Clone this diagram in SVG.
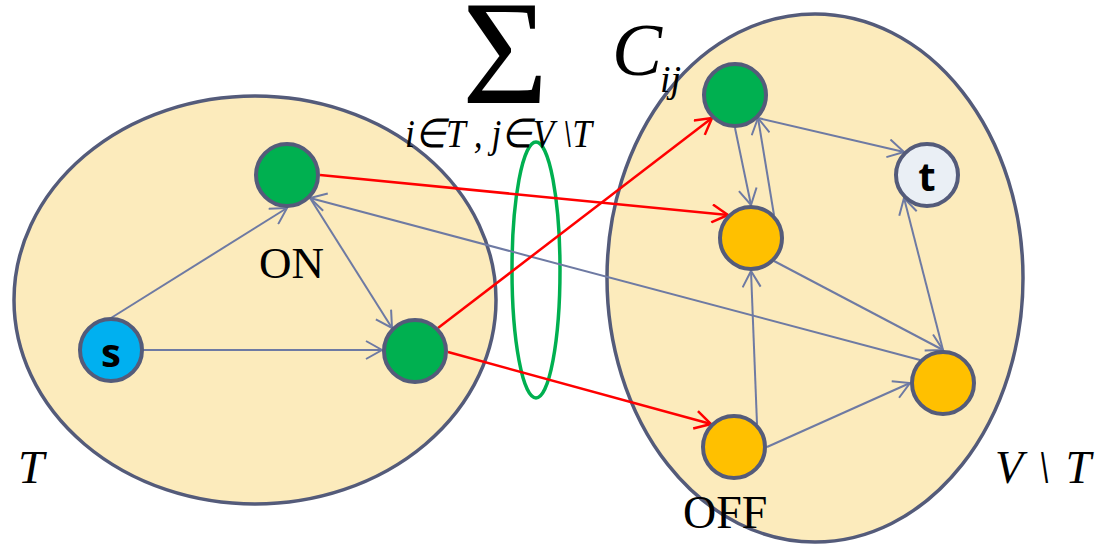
<svg xmlns="http://www.w3.org/2000/svg" width="1098" height="544" viewBox="0 0 1098 544">
<defs>
<style>
.region{fill:#FCEBBC;stroke:#545B7A;stroke-width:3.5}
.node{stroke:#545B7A;stroke-width:4}
.edge{fill:none;stroke:#6E7AA3;stroke-width:2}
.red{fill:none;stroke:#FF0000;stroke-width:2.5}
.math{font-family:"Liberation Serif",serif;font-style:italic;fill:#000}
.lbl{font-family:"Liberation Serif",serif;fill:#000}
.nl{font-family:"Open Sans",sans-serif;font-weight:bold;font-size:40px;text-anchor:middle;fill:#000}
</style>
<marker id="ab" viewBox="0 0 20 20" refX="18" refY="10" markerWidth="20" markerHeight="20" markerUnits="userSpaceOnUse" orient="auto">
<path d="M2,1 L18,10 L2,19" fill="none" stroke="#6E7AA3" stroke-width="2"/>
</marker>
<marker id="ar" viewBox="0 0 20 20" refX="18" refY="10" markerWidth="20" markerHeight="20" markerUnits="userSpaceOnUse" orient="auto">
<path d="M2,1 L18,10 L2,19" fill="none" stroke="#FF0000" stroke-width="2.5"/>
</marker>
</defs>
<rect width="1098" height="544" fill="#fff"/>
<g id="regions">
<ellipse id="regionT" class="region" cx="255" cy="300" rx="241" ry="204"/>
<ellipse id="regionVT" class="region" cx="815" cy="278" rx="208" ry="264"/>
</g>
<g id="cut">
<ellipse cx="536" cy="270" rx="24" ry="128" fill="none" stroke="#00B050" stroke-width="3.5"/>
</g>
<g id="connectors">
<line class="edge" x1="111" y1="318" x2="287" y2="208" marker-end="url(#ab)"/>
<line class="edge" x1="143" y1="350" x2="382" y2="350" marker-end="url(#ab)"/>
<line class="edge" x1="310" y1="198" x2="392" y2="328" marker-end="url(#ab)"/>
<line class="edge" x1="920" y1="360" x2="310" y2="198" marker-end="url(#ab)"/>
<line class="edge" x1="735" y1="128" x2="751" y2="205" marker-end="url(#ab)"/>
<line class="edge" x1="774" y1="215" x2="758" y2="118" marker-end="url(#ab)"/>
<line class="edge" x1="758" y1="118" x2="904" y2="152" marker-end="url(#ab)"/>
<line class="edge" x1="774" y1="261" x2="943" y2="350" marker-end="url(#ab)"/>
<line class="edge" x1="943" y1="350" x2="904" y2="198" marker-end="url(#ab)"/>
<line class="edge" x1="757" y1="424" x2="751" y2="271" marker-end="url(#ab)"/>
<line class="edge" x1="767" y1="447" x2="910" y2="383" marker-end="url(#ab)"/>
<line class="red" x1="320" y1="175" x2="728" y2="215" marker-end="url(#ar)"/>
<line class="red" x1="438" y1="328" x2="712" y2="118" marker-end="url(#ar)"/>
<line class="red" x1="448" y1="352" x2="711" y2="424" marker-end="url(#ar)"/>
</g>
<g id="node-s"><circle class="node" cx="111" cy="350" r="31" fill="#00B0F0"/><text class="nl" x="111" y="367">s</text></g>
<g id="node-on1"><circle class="node" cx="287" cy="175" r="31" fill="#00B050"/></g>
<g id="node-on2"><circle class="node" cx="415" cy="351" r="31" fill="#00B050"/></g>
<g id="node-g3"><circle class="node" cx="735" cy="95" r="31" fill="#00B050"/></g>
<g id="node-o1"><circle class="node" cx="751" cy="238" r="31" fill="#FFC000"/></g>
<g id="node-t"><circle class="node" cx="927" cy="175" r="31" fill="#EAEFF5"/><text class="nl" x="927" y="191">t</text></g>
<g id="node-off"><circle class="node" cx="734" cy="447" r="31" fill="#FFC000"/></g>
<g id="node-o2"><circle class="node" cx="943" cy="383" r="31" fill="#FFC000"/></g>
<g id="labels">
<text class="lbl" x="259" y="278" font-size="45">ON</text>
<text class="lbl" x="683" y="528" font-size="46">OFF</text>
<text class="math" x="18" y="483" font-size="47">T</text>
<text class="math" x="995" y="483" font-size="46" textLength="96" lengthAdjust="spacing">V \ T</text>
<text class="lbl" x="462" y="103" font-size="148">Σ</text>
<text class="math" x="612" y="75" font-size="75">C</text>
<text class="math" x="660" y="92" font-size="38">ij</text>
<text class="math" x="405" y="147" font-size="40" textLength="187" lengthAdjust="spacingAndGlyphs">i∈T , j∈V \T</text>
</g>
</svg>
